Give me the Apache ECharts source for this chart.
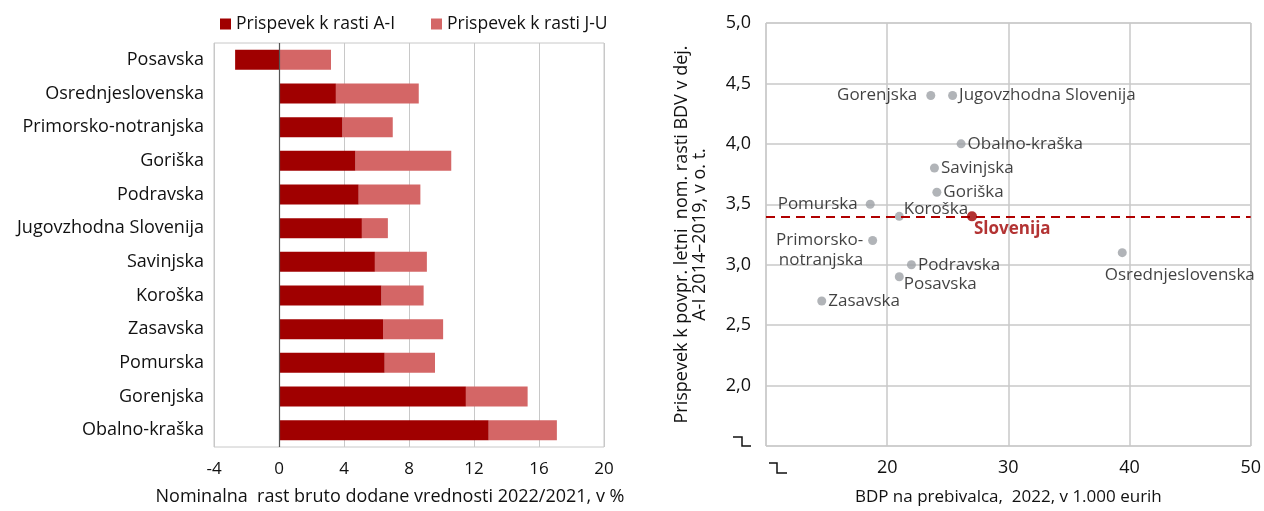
<!DOCTYPE html>
<html>
<head>
<meta charset="utf-8">
<script src="https://cdn.jsdelivr.net/npm/echarts@6/dist/echarts.min.js"></script>
<style>
  html, body { margin: 0; padding: 0; background: #fff; }
  #main { width: 1264px; height: 511px; }
</style>
</head>
<body>
<div id="main"></div>
<script>
// levi graf - prispevki k rasti
var regije = ['Posavska', 'Osrednjeslovenska', 'Primorsko-notranjska', 'Goriška', 'Podravska',
  'Jugovzhodna Slovenija', 'Savinjska', 'Koroška', 'Zasavska', 'Pomurska', 'Gorenjska', 'Obalno-kraška'];
var prispevekAI = [-2.7, 3.5, 3.9, 4.7, 4.9, 5.1, 5.9, 6.3, 6.4, 6.5, 11.5, 12.9];
var prispevekJU = [3.2, 5.1, 3.1, 5.9, 3.8, 1.6, 3.2, 2.6, 3.7, 3.1, 3.8, 4.2];

// desni graf - BDP na prebivalca in rast
var tockeIme = ['Gorenjska', 'Jugovzhodna Slovenija', 'Obalno-kraška', 'Savinjska', 'Goriška', 'Pomurska',
  'Koroška', 'Primorsko-notranjska', 'Podravska', 'Posavska', 'Zasavska', 'Osrednjeslovenska'];
var bdpPrebivalca = [23.6, 25.4, 26.1, 23.9, 24.1, 18.6, 21.0, 18.8, 22.0, 21.0, 14.6, 39.4];
var rastAI = [4.4, 4.4, 4.0, 3.8, 3.6, 3.5, 3.4, 3.2, 3.0, 2.9, 2.7, 3.1];
var slovenija = { ime: 'Slovenija', bdp: 27.0, rast: 3.4 };

var FONT = '"Open Sans", "Noto Sans", sans-serif';
var TEMNA = '#a00000';
var SVETLA = '#d46666';
var MREZA = '#c8c8c8';

// kje stoji oznaka pri posamezni tocki
var oznake = {
  'Gorenjska': { position: 'left', distance: 9 },
  'Jugovzhodna Slovenija': { position: 'right', distance: 2 },
  'Obalno-kraška': { position: 'right', distance: 2 },
  'Savinjska': { position: 'right', distance: 2 },
  'Goriška': { position: 'right', distance: 2 },
  'Pomurska': { position: 'left', distance: 8 },
  'Koroška': { position: 'right', distance: 2, offset: [-2, -7] },
  'Primorsko-notranjska': { position: 'left', distance: 5, offset: [0, 10], formatter: 'Primorsko-\nnotranjska', lineHeight: 20 },
  'Podravska': { position: 'right', distance: 2 },
  'Posavska': { position: 'right', distance: 2, offset: [-2, 7] },
  'Zasavska': { position: 'right', distance: 2 },
  'Osrednjeslovenska': { position: 'right', distance: 5, offset: [-27, 23] }
};

var tocke = tockeIme.map(function (ime, i) {
  var o = oznake[ime];
  return {
    name: ime,
    value: [bdpPrebivalca[i], rastAI[i]],
    label: Object.assign({ show: true, color: '#111', fontSize: 17, fontFamily: FONT, formatter: ime }, o)
  };
});

var myChart = echarts.init(document.getElementById('main'), null, { renderer: 'canvas' });

var option = {
  backgroundColor: '#fff',
  animation: false,
  textStyle: { fontFamily: FONT },
  legend: {
    left: 215,
    top: 10,
    itemWidth: 11,
    itemHeight: 11,
    itemGap: 36,
    icon: 'rect',
    textStyle: { fontSize: 17.5, color: '#111', fontFamily: FONT },
    data: ['Prispevek k rasti A-I', 'Prispevek k rasti J-U']
  },
  grid: [
    { left: 214, right: 660, top: 43, bottom: 62, show: true, borderColor: MREZA, borderWidth: 1 },
    { left: 766, right: 12, top: 23, bottom: 64, show: true, borderColor: MREZA, borderWidth: 1 }
  ],
  xAxis: [
    {
      gridIndex: 0,
      type: 'value',
      min: -4, max: 20, interval: 4,
      axisLine: { show: false },
      axisTick: { show: false },
      splitLine: { lineStyle: { color: MREZA, width: 1 } },
      axisLabel: { fontSize: 17, color: '#111', margin: 14, fontFamily: FONT },
      name: 'Nominalna  rast bruto dodane vrednosti 2022/2021, v %',
      nameLocation: 'middle',
      nameGap: 41,
      nameTextStyle: { fontSize: 18, color: '#111', fontFamily: FONT, padding: [0, 38, 0, 0] }
    },
    {
      gridIndex: 1,
      type: 'value',
      min: 10, max: 50, interval: 10,
      axisLine: { show: false },
      axisTick: { show: false },
      splitLine: { lineStyle: { color: MREZA, width: 1.5 } },
      axisLabel: {
        fontSize: 18, color: '#111', margin: 13, fontFamily: FONT,
        formatter: function (v) { return v === 10 ? '' : String(v); }
      },
      name: 'BDP na prebivalca,  2022, v 1.000 eurih',
      nameLocation: 'middle',
      nameGap: 43,
      nameTextStyle: { fontSize: 17, color: '#111', fontFamily: FONT }
    }
  ],
  yAxis: [
    {
      gridIndex: 0,
      type: 'category',
      inverse: true,
      data: regije,
      axisLine: { show: false, onZero: false },
      axisTick: { show: false },
      splitLine: { show: false },
      axisLabel: { fontSize: 18, color: '#111', margin: 10, fontFamily: FONT }
    },
    {
      gridIndex: 1,
      type: 'value',
      min: 1.5, max: 5, interval: 0.5,
      axisLine: { show: false },
      axisTick: { show: false },
      splitLine: { lineStyle: { color: MREZA, width: 1.5 } },
      axisLabel: {
        fontSize: 18, color: '#111', margin: 15, fontFamily: FONT,
        formatter: function (v) { return v === 1.5 ? '' : v.toFixed(1).replace('.', ','); }
      },
      name: 'Prispevek k povpr. letni  nom. rasti BDV v dej.\nA-I 2014–2019, v o. t.',
      nameLocation: 'middle',
      nameGap: 57,
      nameTextStyle: { fontSize: 18, color: '#111', fontFamily: FONT, lineHeight: 18 }
    }
  ],
  series: [
    {
      name: 'Prispevek k rasti A-I',
      type: 'bar',
      xAxisIndex: 0, yAxisIndex: 0,
      stack: 'rast',
      barWidth: 20,
      itemStyle: { color: TEMNA },
      data: prispevekAI,
      markLine: {
        silent: true,
        symbol: 'none',
        label: { show: false },
        lineStyle: { color: '#555', type: 'solid', width: 1.2 },
        data: [{ xAxis: 0 }]
      },
      z: 3
    },
    {
      name: 'Prispevek k rasti J-U',
      type: 'bar',
      xAxisIndex: 0, yAxisIndex: 0,
      stack: 'rast',
      barWidth: 20,
      itemStyle: { color: SVETLA },
      data: prispevekJU,
      z: 2
    },
    {
      name: 'Regije',
      type: 'scatter',
      xAxisIndex: 1, yAxisIndex: 1,
      symbolSize: 9,
      itemStyle: { color: '#9da1a6' },
      data: tocke,
      z: 4
    },
    {
      name: 'Slovenija',
      type: 'scatter',
      xAxisIndex: 1, yAxisIndex: 1,
      symbolSize: 10,
      itemStyle: { color: TEMNA },
      label: {
        show: true, position: 'right', distance: 5, offset: [-8, 13],
        formatter: slovenija.ime, color: TEMNA, fontWeight: 'bold', fontSize: 17, fontFamily: FONT
      },
      data: [[slovenija.bdp, slovenija.rast]],
      markLine: {
        silent: true,
        symbol: 'none',
        label: { show: false },
        lineStyle: { color: '#b00000', type: [9, 6], width: 2 },
        data: [{ yAxis: slovenija.rast }]
      },
      z: 5
    }
  ],
  graphic: [
    // oznaka prekinitve osi y
    {
      type: 'polyline',
      shape: { points: [[733, 437], [742, 437], [742, 446], [751, 446]] },
      style: { stroke: '#111', lineWidth: 1.5, fill: null }
    },
    // oznaka prekinitve osi x
    {
      type: 'polyline',
      shape: { points: [[769, 463], [777, 463], [777, 473], [787, 473]] },
      style: { stroke: '#111', lineWidth: 1.5, fill: null }
    }
  ]
};

myChart.setOption(option);
</script>
</body>
</html>
